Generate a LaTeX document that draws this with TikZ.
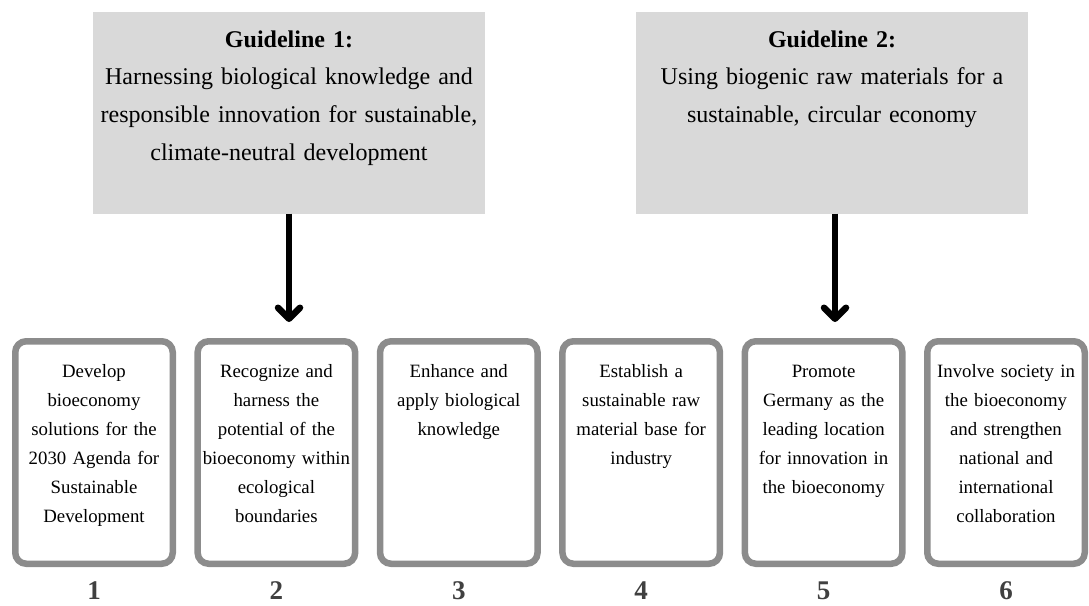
\documentclass[tikz,border=0pt]{standalone}
\usepackage{fontspec}
\setmainfont{Liberation Serif}
\usetikzlibrary{arrows.meta}

\definecolor{guidefill}{RGB}{217,217,217}
\definecolor{cardline}{RGB}{140,140,140}
\definecolor{numgray}{RGB}{64,64,64}

\begin{document}
\begin{tikzpicture}[x=1pt,y=-1pt,
  guidebox/.style={rectangle, fill=guidefill, draw=none, inner sep=0pt,
    minimum width=392pt, minimum height=201.5pt},
  guidetext/.style={anchor=base, inner sep=0pt, text width=400pt, align=center,
    font=\fontsize{24}{37.7}\selectfont},
  card/.style={rectangle, rounded corners=11pt, draw=cardline, line width=6.5pt,
    fill=white, inner sep=0pt, minimum width=157.5pt, minimum height=222.5pt},
  cardtext/.style={anchor=base, inner sep=0pt, text width=170pt, align=center,
    font=\fontsize{18.8}{29}\selectfont},
  cardnum/.style={anchor=base, inner sep=0pt, text=numgray,
    font=\fontsize{27}{30}\selectfont\bfseries},
  downarrow/.style={line width=6.5pt,
    -{Straight Barb[length=11pt,width=22pt,line cap=round,line join=round]}}
]
\useasboundingbox (0,0) rectangle (1089,605);

% the two guidelines
\node[guidebox] (g1) at (289,112.75) {};
\node[guidetext] (g1t) at (g1.center |- 0,47)
  {\textbf{Guideline 1:}\\Harnessing biological knowledge and\\responsible innovation for sustainable,\\climate-neutral development};
\node[guidebox] (g2) at (832,112.75) {};
\node[guidetext] (g2t) at (g2.center |- 0,47)
  {\textbf{Guideline 2:}\\Using biogenic raw materials for a\\sustainable, circular economy};

% arrows pointing down to the fields of action
\coordinate (a1) at (289,322);
\coordinate (a2) at (835,322);
\draw[downarrow] (g1.south) -- (a1);
\draw[downarrow] (g2.south -| a2) -- (a2);

% the six fields of action
\node[card] (b1) at (94,452.5) {};
\node[card] (b2) at (276.4,452.5) {};
\node[card] (b3) at (458.8,452.5) {};
\node[card] (b4) at (641.2,452.5) {};
\node[card] (b5) at (823.6,452.5) {};
\node[card] (b6) at (1006,452.5) {};

\node[cardtext] (t1) at (b1.center |- 0,377)
  {Develop\\bioeconomy\\solutions for the\\2030 Agenda for\\Sustainable\\Development};
\node[cardtext] (t2) at (b2.center |- 0,377)
  {Recognize and\\harness the\\potential of the\\bioeconomy within\\ecological\\boundaries};
\node[cardtext] (t3) at (b3.center |- 0,377)
  {Enhance and\\apply biological\\knowledge};
\node[cardtext] (t4) at (b4.center |- 0,377)
  {Establish a\\sustainable raw\\material base for\\industry};
\node[cardtext] (t5) at (b5.center |- 0,377)
  {Promote\\Germany as the\\leading location\\for innovation in\\the bioeconomy};
\node[cardtext] (t6) at (b6.center |- 0,377)
  {Involve society in\\the bioeconomy\\and strengthen\\national and\\international\\collaboration};

% numbering
\node[cardnum] (n1) at (b1.center |- 0,599) {1};
\node[cardnum] (n2) at (b2.center |- 0,599) {2};
\node[cardnum] (n3) at (b3.center |- 0,599) {3};
\node[cardnum] (n4) at (b4.center |- 0,599) {4};
\node[cardnum] (n5) at (b5.center |- 0,599) {5};
\node[cardnum] (n6) at (b6.center |- 0,599) {6};
\end{tikzpicture}
\end{document}
